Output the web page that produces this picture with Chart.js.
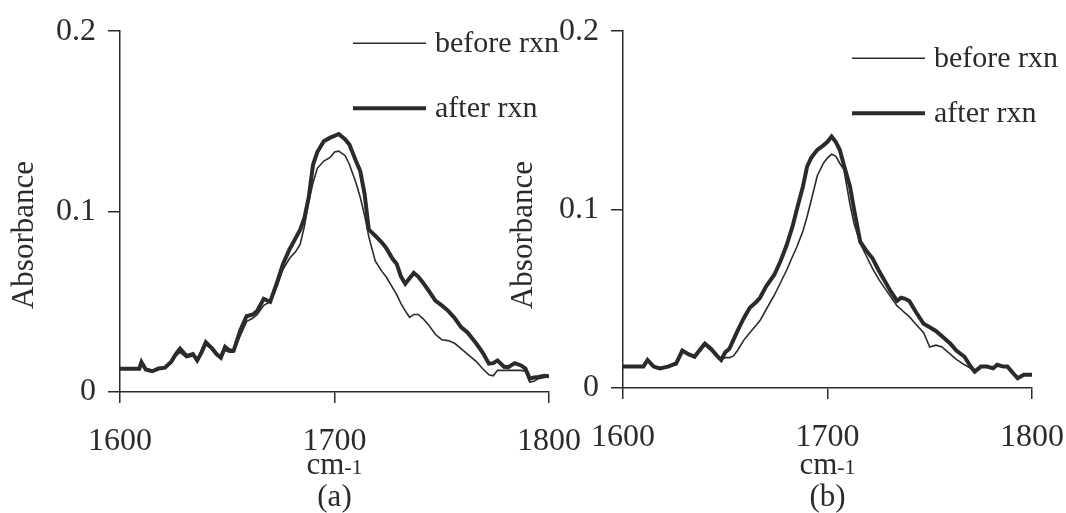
<!DOCTYPE html>
<html>
<head>
<meta charset="utf-8">
<script src="https://cdn.jsdelivr.net/npm/chart.js@4"></script>
<style>
  html, body { margin: 0; padding: 0; background: #fff; }
  body { width: 1066px; height: 513px; position: relative; overflow: hidden; }
  .panel { position: absolute; top: 0; height: 513px; }
  #panelA { left: 0; width: 600px; }
  #panelB { left: 505px; width: 578px; }
</style>
</head>
<body>
<div class="panel" id="panelA"><canvas id="chartA"></canvas></div>
<div class="panel" id="panelB"><canvas id="chartB"></canvas></div>
<script>
const xTicks = [1600, 1700, 1800];
const yTicks = [0, 0.1, 0.2];
const seriesNames = ['before rxn', 'after rxn'];

// panel (a)
const waveA = [1600,1604,1609,1610,1612,1615,1618,1621,1624,1626,1628,1631,1634,1636,1638,1640,1643,1645,1647,1649,
  1651,1653,1656,1659,1662,1664,1667,1670,1673,1676,1679,1682,1684,1686,1688,1690,1692,1695,1698,1700,
  1702,1705,1707,1710,1712,1714,1716,1719,1722,1724,1727,1729,1731,1733,1735,1737,1739,1741,1744,1747,
  1750,1753,1756,1759,1762,1766,1769,1772,1774,1776,1779,1781,1784,1787,1789,1791,1793,1795,1798,1800];
const beforeA = [0.0129,0.0129,0.0129,0.016,0.013,0.012,0.013,0.0135,0.016,0.020,0.022,0.019,0.020,0.018,0.021,0.026,0.024,0.021,0.020,0.023,
  0.022,0.022,0.031,0.039,0.041,0.043,0.048,0.050,0.058,0.068,0.074,0.078,0.082,0.092,0.106,0.116,0.124,0.128,0.130,0.133,
  0.1335,0.131,0.126,0.116,0.108,0.098,0.086,0.0727,0.067,0.064,0.058,0.054,0.049,0.045,0.0414,0.043,0.043,0.041,0.037,0.032,
  0.029,0.0285,0.027,0.024,0.021,0.017,0.013,0.0095,0.009,0.012,0.012,0.012,0.012,0.012,0.0115,0.0055,0.006,0.0074,0.008,0.0087];
const afterA = [0.0129,0.0129,0.0129,0.0166,0.0125,0.0115,0.013,0.0135,0.017,0.021,0.024,0.020,0.021,0.0175,0.022,0.0276,0.024,0.021,0.019,0.025,
  0.023,0.023,0.034,0.042,0.043,0.045,0.0516,0.050,0.060,0.071,0.079,0.0856,0.090,0.0967,0.108,0.126,0.133,0.139,0.141,0.142,
  0.143,0.140,0.137,0.128,0.1225,0.110,0.090,0.0866,0.083,0.080,0.074,0.071,0.064,0.060,0.063,0.066,0.064,0.061,0.056,0.0506,
  0.048,0.045,0.041,0.036,0.033,0.027,0.022,0.0157,0.016,0.0175,0.014,0.0138,0.016,0.0147,0.013,0.0074,0.008,0.0083,0.009,0.0087];

// panel (b)
const waveB = [1600,1605,1610,1612,1615,1618,1622,1626,1629,1632,1635,1638,1640,1643,1646,1648,1650,1652,1654,1656,
  1659,1662,1665,1667,1670,1674,1677,1680,1683,1685,1688,1690,1692,1695,1698,1700,1702,1704,1706,1708,
  1711,1713,1716,1719,1722,1725,1728,1731,1734,1736,1738,1740,1743,1747,1750,1753,1756,1760,1763,1767,
  1770,1772,1775,1778,1781,1783,1786,1788,1791,1793,1796,1800];
const beforeB = [0.012,0.012,0.012,0.015,0.012,0.011,0.012,0.013,0.020,0.019,0.018,0.021,0.024,0.021,0.018,0.016,0.017,0.017,0.018,0.021,
  0.0267,0.031,0.035,0.0378,0.044,0.052,0.059,0.066,0.074,0.079,0.088,0.096,0.105,0.119,0.126,0.129,0.131,0.130,0.126,0.1225,
  0.103,0.092,0.081,0.074,0.067,0.061,0.056,0.051,0.046,0.044,0.042,0.040,0.036,0.031,0.023,0.024,0.023,0.019,0.016,0.013,
  0.011,0.0092,0.012,0.012,0.011,0.013,0.012,0.012,0.008,0.0055,0.0074,0.0074];
const afterB = [0.012,0.012,0.012,0.0157,0.012,0.011,0.012,0.0138,0.021,0.019,0.0175,0.022,0.0249,0.022,0.018,0.0157,0.020,0.022,0.027,0.032,
  0.039,0.045,0.048,0.0506,0.057,0.0635,0.071,0.080,0.091,0.100,0.113,0.124,0.129,0.1335,0.136,0.138,0.141,0.138,0.1335,0.125,
  0.113,0.100,0.082,0.077,0.0727,0.066,0.060,0.054,0.0488,0.0506,0.050,0.0488,0.043,0.036,0.034,0.032,0.029,0.025,0.021,0.0175,
  0.012,0.0092,0.012,0.012,0.011,0.013,0.012,0.012,0.008,0.0055,0.0074,0.0074];

const ink = '#2b2b2b';
const serif = 'Liberation Serif, Times New Roman, serif';

const annotate = {
  id: 'annotate',
  afterDraw(chart, args, o) {
    const { ctx, chartArea: a } = chart;
    const cx = chart.scales.x.getPixelForValue(1700);
    ctx.save();
    ctx.fillStyle = ink;
    ctx.strokeStyle = ink;

    // legend
    chart.data.datasets.forEach((ds, i) => {
      const y = a.top + o.legendY[i];
      ctx.lineWidth = ds.borderWidth;
      ctx.beginPath();
      ctx.moveTo(a.left + o.legendX, y);
      ctx.lineTo(a.left + o.legendX + 73, y);
      ctx.stroke();
      ctx.font = '30px ' + serif;
      ctx.textAlign = 'left';
      ctx.textBaseline = 'middle';
      ctx.fillText(ds.label, a.left + o.legendX + 82, y + 1);
    });

    // y title
    ctx.save();
    ctx.translate(a.left - o.titleDX, 235);
    ctx.rotate(-Math.PI / 2);
    ctx.font = '31px ' + serif;
    ctx.textAlign = 'center';
    ctx.textBaseline = 'middle';
    ctx.fillText('Absorbance', 0, 0);
    ctx.restore();

    // x title: cm-1
    ctx.textBaseline = 'alphabetic';
    ctx.font = '31px ' + serif;
    const w1 = ctx.measureText('cm').width;
    ctx.font = '22px ' + serif;
    const w2 = ctx.measureText('-1').width;
    const sx = cx - (w1 + w2) / 2;
    ctx.textAlign = 'left';
    ctx.font = '31px ' + serif;
    ctx.fillText('cm', sx, 474);
    ctx.font = '22px ' + serif;
    ctx.fillText('-1', sx + w1, 474);

    // caption
    ctx.font = '31px ' + serif;
    ctx.textAlign = 'center';
    ctx.textBaseline = 'middle';
    ctx.fillText(o.caption, cx, 498);
    ctx.restore();
  }
};

function makeChart(id, waves, before, after, o) {
  const toPoints = vals => vals.map((v, i) => ({ x: waves[i], y: v }));
  return new Chart(document.getElementById(id), {
    type: 'line',
    data: {
      datasets: [
        { label: seriesNames[0], data: toPoints(before), borderColor: ink, borderWidth: 1.6, pointRadius: 0, tension: 0 },
        { label: seriesNames[1], data: toPoints(after), borderColor: ink, borderWidth: 4, pointRadius: 0, tension: 0 }
      ]
    },
    options: {
      responsive: true,
      maintainAspectRatio: false,
      animation: false,
      events: [],
      layout: { padding: { top: o.top, right: o.right, left: 0, bottom: 0 } },
      plugins: {
        legend: { display: false },
        tooltip: { enabled: false },
        annotate: o
      },
      scales: {
        x: {
          type: 'linear',
          min: xTicks[0],
          max: xTicks[xTicks.length - 1],
          afterFit: s => { s.height = o.xHeight; },
          afterBuildTicks: s => { s.ticks = xTicks.map(v => ({ value: v })); },
          grid: { drawOnChartArea: false, drawTicks: true, tickLength: 11, color: ink, lineWidth: 1.5 },
          border: { display: true, color: ink, width: 1.5 },
          ticks: {
            color: ink, font: { family: serif, size: 32 }, padding: 19, maxRotation: 0,
            callback: v => String(v)
          }
        },
        y: {
          min: yTicks[0],
          max: yTicks[yTicks.length - 1],
          afterFit: s => { s.width = o.yWidth; },
          afterBuildTicks: s => { s.ticks = yTicks.map(v => ({ value: v })); },
          grid: { drawOnChartArea: false, drawTicks: true, tickLength: 12, color: ink, lineWidth: 1.5 },
          border: { display: true, color: ink, width: 1.5 },
          ticks: {
            color: ink, font: { family: serif, size: 32 }, padding: 12,
            callback: v => v === 0 ? '0' : v.toFixed(1)
          }
        }
      }
    },
    plugins: [annotate]
  });
}

window.onload = () => {
  makeChart('chartA', waveA, beforeA, afterA, {
    caption: '(a)', top: 30, right: 50, xHeight: 121, yWidth: 120,
    legendX: 233, legendY: [12, 77], titleDX: 95
  });
  makeChart('chartB', waveB, beforeB, afterB, {
    caption: '(b)', top: 25, right: 35, xHeight: 125, yWidth: 118,
    legendX: 229, legendY: [27, 82], titleDX: 99
  });
};
</script>
</body>
</html>
